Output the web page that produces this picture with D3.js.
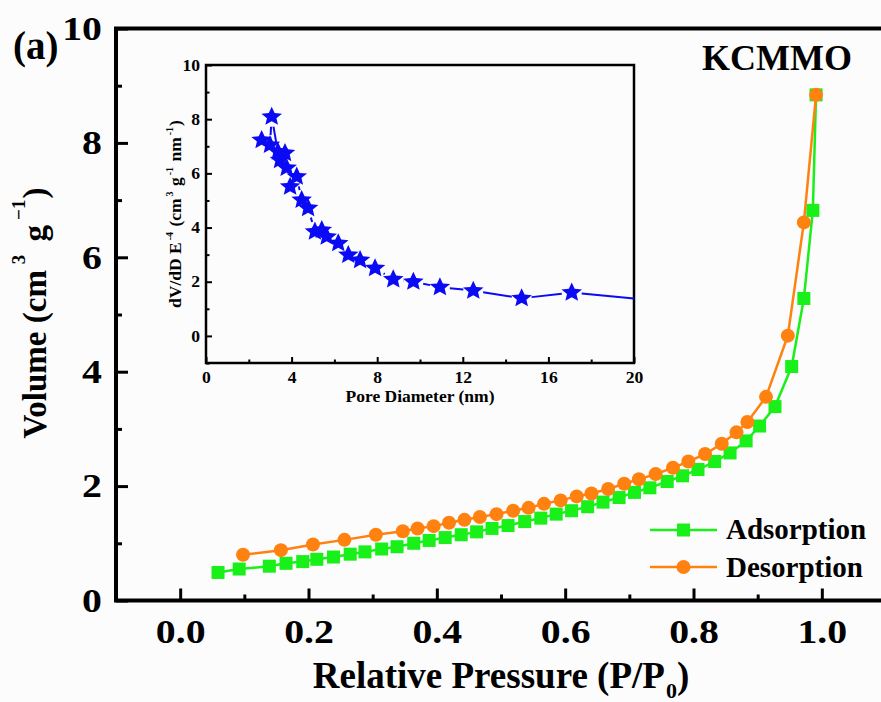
<!DOCTYPE html>
<html>
<head>
<meta charset="utf-8">
<script src="https://d3js.org/d3.v7.min.js"></script>
<style>
  body { margin: 0; background: #fcfcfc; }
  svg { display: block; }
  text { font-family: "Liberation Serif", "Times New Roman", serif; font-weight: bold; }
</style>
</head>
<body>
<div id="chart-area"></div>
<script>
// Isotherm (main plot)
const adsP = [0.059, 0.092, 0.139, 0.165, 0.191, 0.213, 0.239, 0.265, 0.288, 0.314, 0.338, 0.364, 0.388, 0.413, 0.438, 0.462, 0.486, 0.511, 0.537, 0.562, 0.586, 0.610, 0.635, 0.659, 0.684, 0.708, 0.732, 0.759, 0.783, 0.807, 0.833, 0.857, 0.882, 0.903, 0.927, 0.953, 0.972, 0.986, 0.991];
const adsV = [0.49, 0.55, 0.60, 0.65, 0.68, 0.72, 0.76, 0.81, 0.85, 0.90, 0.94, 1.00, 1.05, 1.10, 1.15, 1.20, 1.26, 1.31, 1.38, 1.44, 1.51, 1.57, 1.64, 1.72, 1.80, 1.89, 1.97, 2.08, 2.18, 2.29, 2.43, 2.58, 2.79, 3.05, 3.39, 4.09, 5.28, 6.82, 8.84];
const desP = [0.098, 0.157, 0.207, 0.256, 0.305, 0.347, 0.370, 0.395, 0.419, 0.443, 0.467, 0.493, 0.519, 0.543, 0.567, 0.593, 0.618, 0.641, 0.667, 0.692, 0.715, 0.741, 0.768, 0.792, 0.818, 0.844, 0.867, 0.884, 0.913, 0.947, 0.972, 0.991];
const desV = [0.80, 0.88, 0.98, 1.06, 1.15, 1.21, 1.26, 1.30, 1.36, 1.41, 1.46, 1.51, 1.57, 1.62, 1.69, 1.75, 1.82, 1.87, 1.95, 2.04, 2.12, 2.21, 2.32, 2.43, 2.56, 2.74, 2.94, 3.12, 3.56, 4.63, 6.61, 8.84];

// Pore size distribution (inset); last point only carries the line to the frame
const poreD = [2.60, 2.99, 3.07, 3.36, 3.46, 3.69, 3.77, 3.93, 4.24, 4.47, 4.77, 5.09, 5.41, 5.64, 6.18, 6.65, 7.20, 7.90, 8.75, 9.69, 10.93, 12.49, 14.75, 17.09, 20.0];
const poreV = [7.23, 7.05, 8.09, 6.80, 6.49, 6.75, 6.20, 5.51, 5.88, 5.02, 4.72, 3.85, 3.91, 3.66, 3.42, 2.99, 2.80, 2.50, 2.09, 2.00, 1.80, 1.67, 1.39, 1.60, 1.38];

// ticks
const xTicks = [0, 0.2, 0.4, 0.6, 0.8, 1.0];
const xMinor = [-0.1, 0.1, 0.3, 0.5, 0.7, 0.9, 1.1];
const yTicks = [0, 2, 4, 6, 8, 10];
const yMinor = [1, 3, 5, 7, 9];
const inXTicks = [0, 4, 8, 12, 16, 20];
const inXMinor = [2, 6, 10, 14, 18];
const inYTicks = [0, 2, 4, 6, 8, 10];
const inYMinor = [-1, 1, 3, 5, 7, 9];

const W = 881, H = 702;
const green = "#19f019", orange = "#ff8210", blue = "#0a0af5";
const serif = "'Liberation Serif', 'Times New Roman', serif";

const svg = d3.select("#chart-area").append("svg")
    .attr("width", W)
    .attr("height", H);

const x = d3.scaleLinear().domain([-0.1, 1.1]).range([116, 886]);
const y = d3.scaleLinear().domain([0, 10]).range([600.5, 28.5]);

// stretch tick labels sideways, as in the original
const widen = function (sel, s) {
    sel.each(function () {
        const t = d3.select(this);
        const tx = +t.attr("x") || 0, ty = +t.attr("y") || 0;
        t.attr("x", 0).attr("y", 0)
            .attr("transform", `translate(${tx},${ty}) scale(${s},1)`);
    });
};

// main axes
const xAxis = svg.append("g")
    .attr("class", "main-axis")
    .attr("transform", `translate(0,${y(0)})`)
    .call(d3.axisBottom(x).tickValues(xTicks).tickSizeInner(-12).tickSizeOuter(0).tickPadding(18).tickFormat(d3.format(".1f")));
svg.append("g")
    .attr("transform", `translate(0,${y(0)})`)
    .call(d3.axisBottom(x).tickValues(xMinor).tickSizeInner(-6).tickSizeOuter(0).tickFormat(""));
const yAxis = svg.append("g")
    .attr("class", "main-axis")
    .attr("transform", `translate(${x(-0.1)},0)`)
    .call(d3.axisLeft(y).tickValues(yTicks).tickSizeInner(-12).tickSizeOuter(0).tickPadding(14).tickFormat(d3.format("d")));
svg.append("g")
    .attr("transform", `translate(${x(-0.1)},0)`)
    .call(d3.axisLeft(y).tickValues(yMinor).tickSizeInner(-6).tickSizeOuter(0).tickFormat(""));

svg.selectAll(".domain").remove();
svg.selectAll(".tick line").attr("stroke", "#000").attr("stroke-width", 3);
svg.selectAll(".main-axis .tick text")
    .attr("font-size", "34px")
    .attr("font-family", serif)
    .attr("font-weight", "bold")
    .attr("fill", "#000")
    .call(widen, 1.17);

svg.append("rect")
    .attr("x", x(-0.1))
    .attr("y", y(10))
    .attr("width", x(1.1) - x(-0.1))
    .attr("height", y(0) - y(10))
    .attr("fill", "none")
    .attr("stroke", "#000")
    .attr("stroke-width", 4);

// axis labels
const xLabel = svg.append("text")
    .attr("x", 501)
    .attr("y", 688)
    .attr("text-anchor", "middle")
    .attr("font-size", "37px");
xLabel.append("tspan").text("Relative Pressure (P/P");
xLabel.append("tspan").attr("font-size", "22px").attr("dy", 10).attr("dx", 1).text("0");
xLabel.append("tspan").attr("dy", -10).text(")");

const yLabel = svg.append("text")
    .attr("transform", "translate(46,313) rotate(-90)")
    .attr("text-anchor", "middle")
    .attr("font-size", "33px");
yLabel.append("tspan").text("Volume (cm");
yLabel.append("tspan").attr("font-size", "19px").attr("dy", -21).attr("dx", 6).text("3");
yLabel.append("tspan").attr("dy", 21).attr("dx", 5).text(" g");
yLabel.append("tspan").attr("font-size", "19px").attr("dy", -21).attr("dx", 5).text("\u22121");
yLabel.append("tspan").attr("dy", 21).attr("dx", 1).text(")");

svg.append("text").attr("x", 13).attr("y", 59).attr("font-size", "39px").text("(a)");
svg.append("text").attr("x", 777).attr("y", 70).attr("text-anchor", "middle").attr("font-size", "36px").text("KCMMO");

// isotherm curves
const adsData = adsP.map((p, i) => ({ p: p, v: adsV[i] }));
const desData = desP.map((p, i) => ({ p: p, v: desV[i] }));

const line = d3.line()
    .x(function (d) { return x(d.p); })
    .y(function (d) { return y(d.v); });

svg.append("path")
    .attr("d", line(adsData))
    .attr("fill", "none")
    .attr("stroke", green)
    .attr("stroke-width", 2.5);
svg.selectAll(".ads").data(adsData).enter().append("rect")
    .attr("class", "ads")
    .attr("x", d => x(d.p) - 6.5)
    .attr("y", d => y(d.v) - 6.5)
    .attr("width", 13)
    .attr("height", 13)
    .attr("fill", green);

svg.append("path")
    .attr("d", line(desData))
    .attr("fill", "none")
    .attr("stroke", orange)
    .attr("stroke-width", 2.5);
svg.selectAll(".des").data(desData).enter().append("circle")
    .attr("class", "des")
    .attr("cx", d => x(d.p))
    .attr("cy", d => y(d.v))
    .attr("r", 7)
    .attr("fill", orange);

// legend
const legend = svg.append("g");
legend.append("line").attr("x1", 650).attr("x2", 717).attr("y1", 530).attr("y2", 530).attr("stroke", green).attr("stroke-width", 2.5);
legend.append("rect").attr("x", 683.5 - 6.5).attr("y", 530 - 6.5).attr("width", 13).attr("height", 13).attr("fill", green);
legend.append("text").attr("x", 726).attr("y", 539).attr("font-size", "29px").text("Adsorption");
legend.append("line").attr("x1", 650).attr("x2", 717).attr("y1", 567).attr("y2", 567).attr("stroke", orange).attr("stroke-width", 2.5);
legend.append("circle").attr("cx", 683.5).attr("cy", 567).attr("r", 7).attr("fill", orange);
legend.append("text").attr("x", 726).attr("y", 577).attr("font-size", "29px").text("Desorption");

// inset
const ix = d3.scaleLinear().domain([0, 20]).range([206, 634]);
const iy = d3.scaleLinear().domain([-1, 10]).range([363, 65]);
const inset = svg.append("g");

inset.append("g")
    .attr("transform", `translate(0,${iy(-1)})`)
    .call(d3.axisBottom(ix).tickValues(inXTicks).tickSizeInner(-6).tickSizeOuter(0).tickPadding(9).tickFormat(d3.format("d")));
inset.append("g")
    .attr("transform", `translate(0,${iy(-1)})`)
    .call(d3.axisBottom(ix).tickValues(inXMinor).tickSizeInner(-3.5).tickSizeOuter(0).tickFormat(""));
inset.append("g")
    .attr("transform", `translate(${ix(0)},0)`)
    .call(d3.axisLeft(iy).tickValues(inYTicks).tickSizeInner(-6).tickSizeOuter(0).tickPadding(6).tickFormat(d3.format("d")));
inset.append("g")
    .attr("transform", `translate(${ix(0)},0)`)
    .call(d3.axisLeft(iy).tickValues(inYMinor).tickSizeInner(-3.5).tickSizeOuter(0).tickFormat(""));

inset.selectAll(".domain").remove();
inset.selectAll(".tick line").attr("stroke", "#000").attr("stroke-width", 2);
inset.selectAll(".tick text")
    .attr("font-size", "16px")
    .attr("font-family", serif)
    .attr("font-weight", "bold")
    .attr("fill", "#000")
    .call(widen, 1.1);

inset.append("rect")
    .attr("x", ix(0))
    .attr("y", iy(10))
    .attr("width", ix(20) - ix(0))
    .attr("height", iy(-1) - iy(10))
    .attr("fill", "none")
    .attr("stroke", "#000")
    .attr("stroke-width", 2.5);

inset.append("text")
    .attr("x", 420)
    .attr("y", 402)
    .attr("text-anchor", "middle")
    .attr("font-size", "17.5px")
    .text("Pore Diameter (nm)");

const iyLabel = inset.append("text")
    .attr("transform", "translate(181,214) rotate(-90)")
    .attr("text-anchor", "middle")
    .attr("font-size", "17.5px");
iyLabel.append("tspan").text("dV/dD E");
iyLabel.append("tspan").attr("font-size", "10px").attr("dy", -8).attr("dx", 2).text("-4");
iyLabel.append("tspan").attr("dy", 8).attr("dx", 1).text(" (cm");
iyLabel.append("tspan").attr("font-size", "10px").attr("dy", -8).attr("dx", 2).text("3");
iyLabel.append("tspan").attr("dy", 8).attr("dx", 1).text(" g");
iyLabel.append("tspan").attr("font-size", "10px").attr("dy", -8).attr("dx", 2).text("-1");
iyLabel.append("tspan").attr("dy", 8).attr("dx", 1).text(" nm");
iyLabel.append("tspan").attr("font-size", "10px").attr("dy", -8).attr("dx", 2).text("-1");
iyLabel.append("tspan").attr("dy", 8).attr("dx", 1).text(")");

// pore line: segments with a gap around each star
const poreData = poreD.map((d, i) => ({ d: d, v: poreV[i], star: d < 20 }));
const gap = 10;
const segs = [];
for (let i = 0; i < poreData.length - 1; i++) {
    const a = poreData[i], b = poreData[i + 1];
    const ax = ix(a.d), ay = iy(a.v), bx = ix(b.d), by = iy(b.v);
    const len = Math.hypot(bx - ax, by - ay);
    const g0 = a.star ? gap : 0, g1 = b.star ? gap : 0;
    if (len <= g0 + g1) continue;
    const ux = (bx - ax) / len, uy = (by - ay) / len;
    segs.push([ax + ux * g0, ay + uy * g0, bx - ux * g1, by - uy * g1]);
}
inset.selectAll(".seg").data(segs).enter().append("line")
    .attr("class", "seg")
    .attr("x1", s => s[0]).attr("y1", s => s[1])
    .attr("x2", s => s[2]).attr("y2", s => s[3])
    .attr("stroke", blue)
    .attr("stroke-width", 2);

// chunkier five-point star (size = outer radius squared)
const fatStar = {
    draw: function (ctx, size) {
        const r = Math.sqrt(size), ri = r * 0.46;
        for (let k = 0; k < 10; k++) {
            const a = -Math.PI / 2 + k * Math.PI / 5;
            const rr = k % 2 ? ri : r;
            if (k === 0) ctx.moveTo(rr * Math.cos(a), rr * Math.sin(a));
            else ctx.lineTo(rr * Math.cos(a), rr * Math.sin(a));
        }
        ctx.closePath();
    }
};

inset.selectAll(".star").data(poreData.filter(d => d.star)).enter().append("path")
    .attr("class", "star")
    .attr("transform", d => `translate(${ix(d.d)},${iy(d.v)}) scale(1.08,1)`)
    .attr("d", d3.symbol().type(fatStar).size(100))
    .attr("fill", blue);
</script>
</body>
</html>
